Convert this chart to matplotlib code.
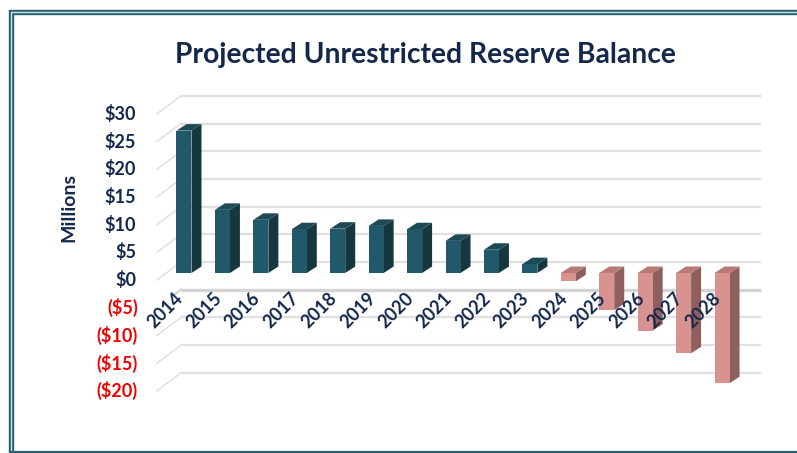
#!/usr/bin/env python3
"""Projected unrestricted reserve balance, drawn as pseudo-3D columns."""
import matplotlib
matplotlib.use("Agg")
import matplotlib.pyplot as plt
from matplotlib.patches import Polygon

plt.rcParams["font.family"] = ["Lato", "DejaVu Sans"]
plt.rcParams["font.weight"] = "bold"

YEARS = [2014, 2015, 2016, 2017, 2018, 2019, 2020, 2021, 2022, 2023, 2024, 2025, 2026, 2027, 2028]
BALANCE = [25.7, 11.4, 9.6, 7.9, 8.0, 8.5, 7.9, 5.8, 4.2, 1.6, -1.5, -6.7, -10.4, -14.5, -19.9]
TICKS = [30, 25, 20, 15, 10, 5, 0, -5, -10, -15, -20]

W, H = 797, 453
UNIT_X, UNIT_Y = 38.43, 5.54     # pixels per category / per $M
X0, Y0 = 184, 273                # pixel position of 2014, $0 on the column front

BAR_W = 15 / UNIT_X
BAR_DX, BAR_DY = 10 / UNIT_X, 6.5 / UNIT_Y
WALL_DX, WALL_DY = 24 / UNIT_X, 18 / UNIT_Y
WALL_LEFT = (157 - X0) / UNIT_X
WALL_RIGHT = (761 - X0) / UNIT_X
WALL_SHIFT = -7 / UNIT_Y         # front edge of the floor relative to the column base

NAVY = "#14284b"
TEAL = ("#21596a", "#17373f", "#1c4a55")
PINK = ("#d89391", "#8f5f5e", "#b87a76")

fig = plt.figure(figsize=(W / 100, H / 100), dpi=100)
ax = fig.add_axes([0, 0, 1, 1])
ax.set_xlim(-X0 / UNIT_X, (W - X0) / UNIT_X)
ax.set_ylim((Y0 - H) / UNIT_Y, Y0 / UNIT_Y)
ax.axis("off")

# double border around the chart area
for lw, col in [(5.4, "#2a6170"), (1.4, "#cfe0e4")]:
    fig.add_artist(plt.Line2D([10.5 / W, 10.5 / W, 1], [0, 1 - 12 / H, 1 - 12 / H],
                              color=col, lw=lw * 0.72, solid_joinstyle="miter"))
fig.add_artist(plt.Line2D([10.5 / W, 1], [1 / H, 1 / H], color="#2a6170", lw=1.6))

# walls: horizontal gridlines on the back, short diagonals on the left side
for t in TICKS:
    front = t + WALL_SHIFT
    back = front + WALL_DY
    floor = t == -5
    ax.plot([WALL_LEFT + WALL_DX, WALL_RIGHT], [back, back],
            color="#d4d4d4" if floor else "#e0e0e0", lw=2.4 if floor else 1.6,
            solid_capstyle="butt", zorder=1)
    if floor:
        ax.plot([WALL_LEFT + WALL_DX * 0.65, WALL_LEFT + WALL_DX], [front + WALL_DY * 0.65, back],
                color="#d4d4d4", lw=1.5, zorder=1)
    else:
        ax.plot([WALL_LEFT, WALL_LEFT + WALL_DX], [front, back], color="#e2e2e2", lw=1.2, zorder=1)
    label = f"${t}" if t >= 0 else f"(${-t})"
    ax.text((138 - X0) / UNIT_X if t < 0 else (136 - X0) / UNIT_X, front, label,
            ha="right", va="center", fontsize=13,
            color=NAVY if t >= 0 else "#f00000", zorder=5)

# columns: front face from the axes, side and top faces offset by the depth
for i, (year, v) in enumerate(zip(YEARS, BALANCE)):
    front, side, top = TEAL if v >= 0 else PINK
    left, right = i - BAR_W / 2, i + BAR_W / 2
    high, low = max(v, 0), min(v, 0)
    ax.add_patch(Polygon([(right, low), (right + BAR_DX, low + BAR_DY),
                          (right + BAR_DX, high + BAR_DY), (right, high)],
                         fc=side, ec="none", zorder=3))
    ax.add_patch(Polygon([(left, high), (left + BAR_DX, high + BAR_DY),
                          (right + BAR_DX, high + BAR_DY), (right, high)],
                         fc=top, ec="none", zorder=3))
    ax.bar(i, v, width=BAR_W, color=front, zorder=4)
    ax.text(i - 0.25, -3.0, str(year), rotation=45, rotation_mode="anchor",
            ha="right", va="top", fontsize=13, color=NAVY, zorder=6)

ax.text((425.5 - X0) / UNIT_X, (Y0 - 55) / UNIT_Y, "Projected Unrestricted Reserve Balance",
        ha="center", va="center", fontsize=20.3, color=NAVY)
ax.text((69 - X0) / UNIT_X, (Y0 - 208) / UNIT_Y, "Millions", rotation=90,
        ha="center", va="center", fontsize=14, color=NAVY)

fig.savefig("out.png", dpi=100)
